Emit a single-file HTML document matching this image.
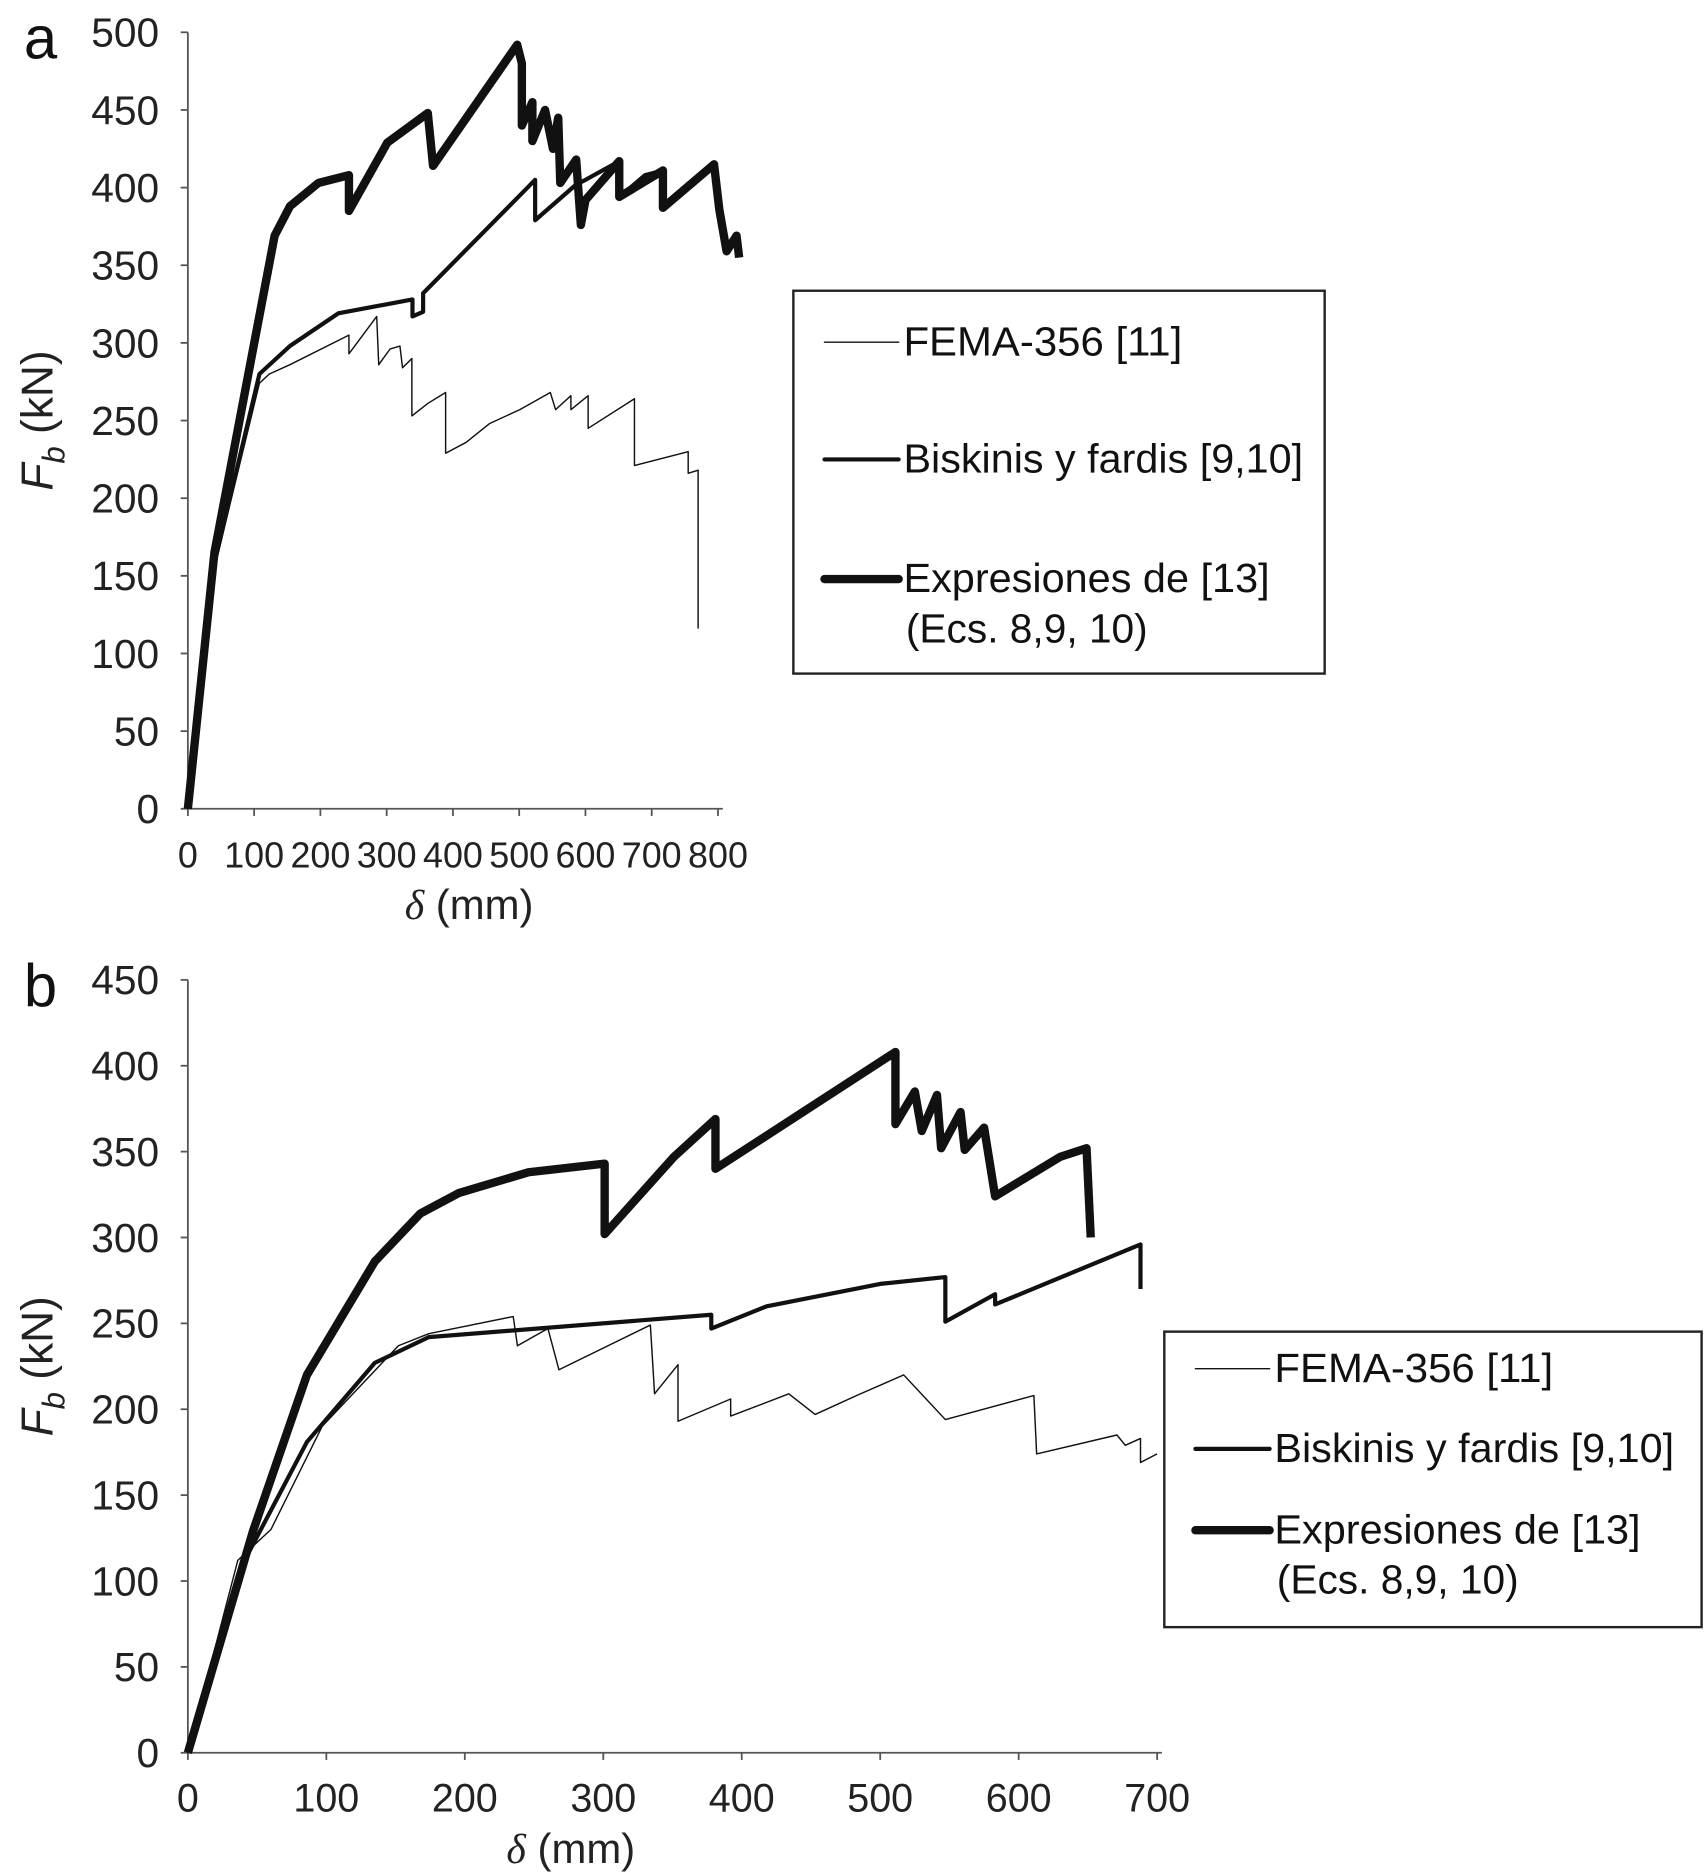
<!DOCTYPE html>
<html><head><meta charset="utf-8"><style>
html,body{margin:0;padding:0;background:#fff;}
svg{display:block;font-family:"Liberation Sans",sans-serif;}
</style></head><body>
<svg id="fig" width="1704" height="1876" viewBox="0 0 1424 1568" preserveAspectRatio="none" xmlns="http://www.w3.org/2000/svg">
<rect width="1424" height="1568" fill="#fff"/>
<g id="ga"></g>
<g id="gb"></g>
</svg>
<script>
// Panel a data
const aFemaX=[0,40,108,123,154,243,243,285,288,305,320,324,338,338,362,389,389,420,455,501,547,555,578,578,604,604,674,674,755,755,770,770];
const aFemaY=[0,155,274,280,286,305,293,317,286,296,298,284,290,253,261,268,229,236,248,257,268,257,266,257,266,245,264,221,230,216,218,116];
const aBisX=[0,40,108,154,227,339,339,355,355,508,524,524,586,600,651,651,690,717,717,763,794,802,813,828,832];
const aBisY=[0,158,280,298,319,328,317,320,332,398,405,379,402,405,417,394,408,411,387,402,415,386,359,369,355];
const aExpX=[0,40,131,154,197,243,243,301,362,370,497,504,504,520,520,539,551,559,562,586,593,600,651,651,717,717,794,802,813,828,832];
const aExpY=[0,165,369,388,403,408,385,429,448,414,492,480,440,455,430,450,425,445,403,418,376,392,417,394,411,387,415,386,359,369,355];
// Panel b data
const bFemaX=[0,36,60,97,152,174,235,238,260,268,334,337,354,354,392,392,434,453,483,517,547,611,613,671,677,688,688,700];
const bFemaY=[0,112,130,190,237,244,254,237,247,223,249,209,226,193,206,196,209,197,208,220,194,208,174,185,179,183,169,174];
const bBisX=[0,41,86,135,174,378,378,418,500,547,547,583,583,688,688];
const bBisY=[0,112,181,227,242,255,247,260,273,277,251,267,261,296,270];
const bExpX=[0,47,86,135,168,196,246,301,301,351,381,381,511,511,525,530,541,544,558,561,575,583,630,649,652];
const bExpY=[0,129,220,286,314,326,338,343,302,347,369,340,408,366,385,362,383,352,373,351,364,324,347,352,300];
const aXTicks=[0,100,200,300,400,500,600,700,800];
const aYTicks=[0,50,100,150,200,250,300,350,400,450,500];
const bXTicks=[0,100,200,300,400,500,600,700];
const bYTicks=[0,50,100,150,200,250,300,350,400,450];
const legendLabels=["FEMA-356 [11]","Biskinis y fardis [9,10]","Expresiones de [13]"];

const NS="http://www.w3.org/2000/svg";
function mk(parent,tag,attrs,text){const e=document.createElementNS(NS,tag);for(const k in attrs)e.setAttribute(k,attrs[k]);if(text!==undefined)e.textContent=text;parent.appendChild(e);return e;}

function drawChart(g,cfg){
  const sx=v=>cfg.x0+(v-0)/(cfg.xmax)*(cfg.x1-cfg.x0);
  const sy=v=>cfg.y0-(v/cfg.ymax)*(cfg.y0-cfg.y1);
  let e;
  e=mk(g,'line',{x1:cfg.x0,y1:cfg.y0,x2:cfg.x1+4,y2:cfg.y0,stroke:'#555','stroke-width':1.5});
  
  
  e=mk(g,'line',{x1:cfg.x0,y1:cfg.y0,x2:cfg.x0,y2:cfg.y1,stroke:'#555','stroke-width':1.5});
  
  
  cfg.yt.forEach(v=>{
    const t=mk(g,'line',{x1:cfg.x0-6,y1:sy(v),x2:cfg.x0,y2:sy(v),stroke:'#555','stroke-width':1.5});
    
    
    const l=mk(g,'text',{x:cfg.x0-24,y:sy(v)+12,'text-anchor':'end','font-size':34,fill:'#222'},String(v));
    
    
  });
  cfg.xt.forEach(v=>{
    const t=mk(g,'line',{x1:sx(v),y1:cfg.y0,x2:sx(v),y2:cfg.y0+6,stroke:'#555','stroke-width':1.5});
    
    
    const l=mk(g,'text',{x:sx(v),y:cfg.y0+49,'text-anchor':'middle','font-size':cfg.xfs,fill:'#222'},String(v));
    
    
  });
  const series=[[cfg.fx,cfg.fy,1.2,'fema-356-line'],[cfg.bx,cfg.by,3.5,'biskinis-fardis-line'],[cfg.ex,cfg.ey,7,'expresiones-line']];
  series.forEach(s=>{
    const pts=s[0].map((x,i)=>sx(x).toFixed(1)+','+sy(s[1][i]).toFixed(1)).join(' ');
    const p=mk(g,'polyline',{points:pts,fill:'none',stroke:'#111','stroke-width':s[2],'stroke-linejoin':'round'});
    
    
  });
  e=mk(g,'text',{x:20,y:cfg.y1+22,'font-size':50,fill:'#111'},cfg.letter);
  
  
  e=mk(g,'text',{x:(cfg.x0+cfg.xlabX),y:cfg.y0+92,'text-anchor':'middle','font-size':35,fill:'#222'});
  e.innerHTML='<tspan font-family="Liberation Serif" font-style="italic">δ</tspan> (mm)';
  
  
  const cy=(cfg.y0+cfg.y1)/2;
  e=mk(g,'text',{x:0,y:0,'text-anchor':'middle','font-size':37,fill:'#222',transform:`translate(44,${cy}) rotate(-90)`});
  e.innerHTML='<tspan font-style="italic">F</tspan><tspan font-style="italic" font-size="26" dy="10">b</tspan><tspan dy="-10"> (kN)</tspan>';
  
  
  const L=cfg.leg;
  e=mk(g,'rect',{x:L.x,y:L.y,width:L.w,height:L.h,fill:'#fff',stroke:'#222','stroke-width':2});
  
  
  const widths=[1.2,3.5,7];
  legendLabels.forEach((lab,i)=>{
    const yy=L.rows[i];
    const ln=mk(g,'line',{x1:L.x+26,y1:yy-11,x2:L.x+88,y2:yy-11,stroke:'#111','stroke-width':widths[i],'stroke-linecap':'round'});
    
    
    const t=mk(g,'text',{x:L.x+92,y:yy,'font-size':34,fill:'#111',textLength:L.tl[i],lengthAdjust:'spacingAndGlyphs'},lab);
    
    
  });
  e=mk(g,'text',{x:L.x+94,y:L.rows[2]+42,'font-size':34,fill:'#111'},'(Ecs. 8,9, 10)');
  
  
}
drawChart(document.getElementById('ga'),{x0:157,x1:600,y0:676,y1:27,xmax:800,ymax:500,xt:aXTicks,yt:aYTicks,xfs:30,letter:'a',xlabX:235,
  fx:aFemaX,fy:aFemaY,bx:aBisX,by:aBisY,ex:aExpX,ey:aExpY,leg:{x:663,y:243,w:444,h:320,rows:[297,395,495],tl:[233,334,306]}});
drawChart(document.getElementById('gb'),{x0:157,x1:967,y0:1465,y1:819,xmax:700,ymax:450,xt:bXTicks,yt:bYTicks,xfs:33,letter:'b',xlabX:320,
  fx:bFemaX,fy:bFemaY,bx:bBisX,by:bBisY,ex:bExpX,ey:bExpY,leg:{x:973,y:1113,w:449,h:247,rows:[1155,1222,1290],tl:[233,334,306]}});
</script>
</body></html>
